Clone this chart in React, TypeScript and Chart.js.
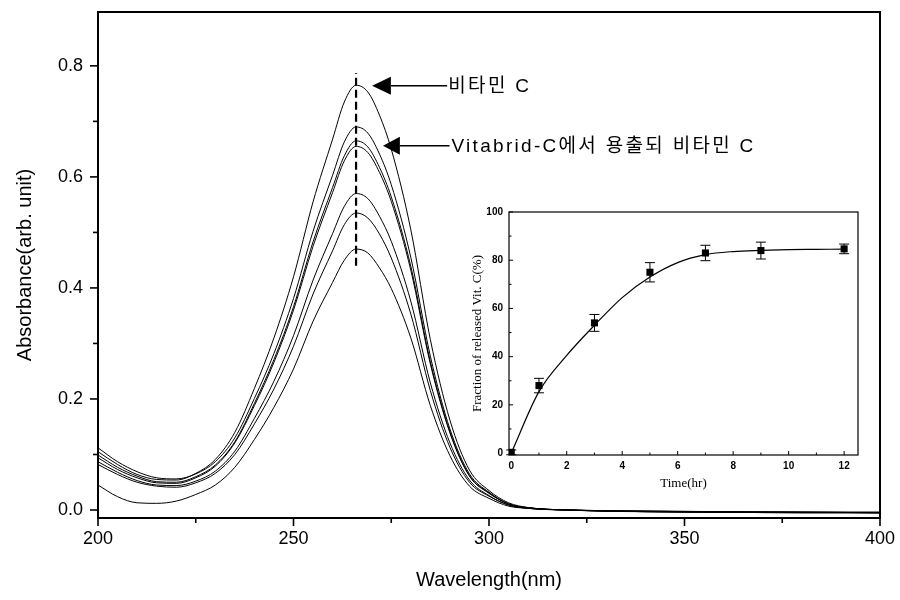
import React, { useEffect, useRef } from "react";
import { Chart, registerables } from "chart.js";
Chart.register(...registerables);

// ---------- main chart data ----------
const wavelengths = [200, 205, 210, 215, 220, 225, 230, 235, 240, 245, 250, 255, 260, 263, 266, 269, 272, 275, 280, 285, 290, 295, 300, 305, 310, 320, 340, 360, 380, 400];
const absVitC = [0.105, 0.082, 0.064, 0.055, 0.054, 0.066, 0.091, 0.140, 0.219, 0.310, 0.420, 0.555, 0.668, 0.735, 0.765, 0.753, 0.711, 0.650, 0.505, 0.307, 0.162, 0.072, 0.035, 0.013, 0.0045, 0.000, -0.003, -0.004, -0.005, -0.005];
const absRel1 = [0.112, 0.087, 0.069, 0.058, 0.056, 0.065, 0.087, 0.130, 0.201, 0.282, 0.381, 0.502, 0.603, 0.663, 0.690, 0.679, 0.641, 0.586, 0.455, 0.277, 0.146, 0.065, 0.032, 0.011, 0.004, 0.000, -0.003, -0.004, -0.004, -0.005];
const absRel2 = [0.099, 0.077, 0.061, 0.051, 0.050, 0.060, 0.081, 0.123, 0.192, 0.271, 0.366, 0.483, 0.581, 0.638, 0.665, 0.654, 0.617, 0.564, 0.439, 0.267, 0.141, 0.062, 0.031, 0.011, 0.004, 0.000, -0.002, -0.004, -0.005, -0.005];
const absRel3 = [0.094, 0.073, 0.058, 0.049, 0.048, 0.058, 0.079, 0.121, 0.188, 0.266, 0.360, 0.475, 0.572, 0.629, 0.655, 0.644, 0.608, 0.556, 0.432, 0.263, 0.139, 0.061, 0.030, 0.011, 0.004, 0.000, -0.003, -0.003, -0.004, -0.005];
const absRel4 = [0.087, 0.068, 0.053, 0.045, 0.044, 0.052, 0.070, 0.106, 0.165, 0.232, 0.314, 0.414, 0.498, 0.547, 0.570, 0.561, 0.529, 0.484, 0.376, 0.229, 0.121, 0.054, 0.026, 0.009, 0.003, 0.000, -0.002, -0.003, -0.004, -0.004];
const absRel5 = [0.082, 0.064, 0.050, 0.043, 0.041, 0.049, 0.066, 0.100, 0.155, 0.218, 0.295, 0.389, 0.467, 0.514, 0.535, 0.526, 0.497, 0.454, 0.353, 0.215, 0.113, 0.050, 0.025, 0.009, 0.003, 0.000, -0.003, -0.004, -0.004, -0.005];
const absRel6 = [0.045, 0.024, 0.013, 0.012, 0.016, 0.028, 0.045, 0.077, 0.127, 0.185, 0.254, 0.340, 0.410, 0.450, 0.470, 0.463, 0.436, 0.399, 0.310, 0.188, 0.098, 0.043, 0.021, 0.007, 0.003, 0.000, -0.002, -0.003, -0.004, -0.004];
const spectra = [absVitC, absRel1, absRel2, absRel3, absRel4, absRel5, absRel6];

const peakWavelength = 266;
const peakMarkerRange = [0.44, 0.787];

const xMajorTicks = [200, 250, 300, 350, 400];
const xMinorTicks = [225, 275, 325, 375];
const yMajorTicks = [0.0, 0.2, 0.4, 0.6, 0.8];
const yMinorTicks = [0.1, 0.3, 0.5, 0.7];

const labelVitC = "비타민 C";
const labelReleased = "Vitabrid-C에서 용출되 비타민 C";

// ---------- inset data ----------
const timeHours = [0, 1, 3, 5, 7, 9, 12];
const releasedPct = [0.3, 28, 54, 75, 83, 84, 84.7];
const releasedErr = [1, 3, 3.5, 4, 3.2, 3.5, 2];
const fitTime = [0, 1, 2, 3, 4, 5, 6, 7, 8, 9, 10, 11, 12];
const fitPct = [0, 25.5, 40.5, 53, 64.5, 73, 79, 82.3, 83.6, 84.1, 84.4, 84.5, 84.6];
const insetXMajor = [0, 2, 4, 6, 8, 10, 12];
const insetXMinor = [1, 3, 5, 7, 9, 11];
const insetYMajor = [0, 20, 40, 60, 80, 100];
const insetYMinor = [10, 30, 50, 70, 90];

const SANS = "'Liberation Sans', Arial, sans-serif";
const SERIF = "'Liberation Serif', 'Times New Roman', serif";
const KR = "'Liberation Sans', 'Noto Sans CJK KR', sans-serif";

function framePlugin(id: string, majorLen: number, minorLen: number, inward: boolean, lw: number, xMaj: number[], xMin: number[], yMaj: number[], yMin: number[]) {
  return {
    id,
    afterDraw(chart: any) {
      const { ctx, chartArea } = chart;
      const { left, right, top, bottom } = chartArea;
      const x = chart.scales.x;
      const y = chart.scales.y;
      ctx.save();
      ctx.strokeStyle = "#000";
      ctx.lineWidth = lw;
      ctx.strokeRect(left, top, right - left, bottom - top);
      ctx.lineWidth = Math.max(1, lw * 0.8);
      const dir = inward ? -1 : 1;
      const drawX = (v: number, len: number) => {
        const px = x.getPixelForValue(v);
        ctx.beginPath();
        ctx.moveTo(px, bottom);
        ctx.lineTo(px, bottom + dir * len);
        ctx.stroke();
      };
      const drawY = (v: number, len: number) => {
        const py = y.getPixelForValue(v);
        ctx.beginPath();
        ctx.moveTo(left, py);
        ctx.lineTo(left - dir * len, py);
        ctx.stroke();
      };
      xMaj.forEach((v) => drawX(v, majorLen));
      xMin.forEach((v) => drawX(v, minorLen));
      yMaj.forEach((v) => drawY(v, majorLen));
      yMin.forEach((v) => drawY(v, minorLen));
      ctx.restore();
    },
  };
}

const arrowPlugin = {
  id: "arrows",
  afterDatasetsDraw(chart: any) {
    const { ctx } = chart;
    const x = chart.scales.x;
    const y = chart.scales.y;
    const arrows = [
      { tip: 270.1, base: 274.9, end: 289.3, textAt: 289.6, yv: 0.764, text: labelVitC },
      { tip: 272.9, base: 277.2, end: 289.9, textAt: 290.4, yv: 0.656, text: labelReleased },
    ];
    ctx.save();
    ctx.fillStyle = "#000";
    ctx.strokeStyle = "#000";
    ctx.lineWidth = 1.5;
    ctx.font = `19px ${KR}`;
    (ctx as any).letterSpacing = "2.3px";
    ctx.textBaseline = "middle";
    ctx.textAlign = "left";
    arrows.forEach((a) => {
      const py = y.getPixelForValue(a.yv);
      const tx = x.getPixelForValue(a.tip);
      const bx = x.getPixelForValue(a.base);
      const ex = x.getPixelForValue(a.end);
      ctx.beginPath();
      ctx.moveTo(tx, py);
      ctx.lineTo(bx, py - 9);
      ctx.lineTo(bx, py + 9);
      ctx.closePath();
      ctx.fill();
      ctx.beginPath();
      ctx.moveTo(bx, py);
      ctx.lineTo(ex, py);
      ctx.stroke();
      ctx.fillText(a.text, x.getPixelForValue(a.textAt), py + 1);
    });
    ctx.restore();
  },
};

const errorBarPlugin = {
  id: "errbars",
  afterDatasetsDraw(chart: any) {
    const { ctx } = chart;
    const x = chart.scales.x;
    const y = chart.scales.y;
    ctx.save();
    ctx.strokeStyle = "#000";
    ctx.lineWidth = 1;
    timeHours.forEach((t, i) => {
      const px = x.getPixelForValue(t);
      const hi = y.getPixelForValue(releasedPct[i] + releasedErr[i]);
      const lo = y.getPixelForValue(releasedPct[i] - releasedErr[i]);
      ctx.beginPath();
      ctx.moveTo(px, hi);
      ctx.lineTo(px, lo);
      ctx.moveTo(px - 5, hi);
      ctx.lineTo(px + 5, hi);
      ctx.moveTo(px - 5, lo);
      ctx.lineTo(px + 5, lo);
      ctx.stroke();
    });
    ctx.restore();
  },
};

export default function App() {
  const mainRef = useRef<HTMLCanvasElement>(null);
  const insetRef = useRef<HTMLCanvasElement>(null);

  useEffect(() => {
    document.body.style.margin = "0";
    const mainDatasets: any[] = spectra.map((s) => ({
      data: wavelengths.map((w, i) => ({ x: w, y: s[i] })),
      borderColor: "#000",
      borderWidth: 1,
      pointRadius: 0,
      cubicInterpolationMode: "monotone",
      fill: false,
    }));
    mainDatasets.push({
      data: [
        { x: peakWavelength, y: peakMarkerRange[0] },
        { x: peakWavelength, y: peakMarkerRange[1] },
      ],
      borderColor: "#000",
      borderWidth: 2.2,
      borderDash: [8, 4],
      pointRadius: 0,
      fill: false,
    });

    const main = new Chart(mainRef.current!, {
      type: "line",
      data: { datasets: mainDatasets },
      options: {
        animation: false,
        responsive: false,
        layout: { padding: { top: 12, right: 20, left: 0, bottom: 0 } },
        plugins: { legend: { display: false }, tooltip: { enabled: false } },
        scales: {
          x: {
            type: "linear",
            min: 200,
            max: 400,
            grid: { display: false, drawTicks: false },
            border: { display: false },
            afterBuildTicks: (s: any) => {
              s.ticks = xMajorTicks.map((v) => ({ value: v }));
            },
            afterFit: (s: any) => {
              s.height = 82;
              s.paddingLeft = 0;
              s.paddingRight = 0;
            },
            ticks: { padding: 10, color: "#000", font: { family: SANS, size: 18 }, maxRotation: 0, callback: (v: any) => String(v) },
            title: { display: true, text: "Wavelength(nm)", color: "#000", font: { family: SANS, size: 20 }, padding: { top: 0, bottom: 8 } },
          },
          y: {
            type: "linear",
            min: -0.0144,
            max: 0.897,
            grid: { display: false, drawTicks: false },
            border: { display: false },
            afterBuildTicks: (s: any) => {
              s.ticks = yMajorTicks.map((v) => ({ value: v }));
            },
            afterFit: (s: any) => {
              s.width = 98;
              s.paddingTop = 0;
              s.paddingBottom = 0;
            },
            ticks: { padding: 15, color: "#000", font: { family: SANS, size: 18 }, callback: (v: any) => Number(v).toFixed(1) },
            title: { display: true, text: "Absorbance(arb. unit)", color: "#000", font: { family: SANS, size: 20 }, padding: { top: 13, bottom: 0 } },
          },
        },
      } as any,
      plugins: [framePlugin("mainFrame", 8, 5, false, 2, xMajorTicks, xMinorTicks, yMajorTicks, yMinorTicks), arrowPlugin],
    });

    const inset = new Chart(insetRef.current!, {
      type: "line",
      data: {
        datasets: [
          {
            data: fitTime.map((t, i) => ({ x: t, y: fitPct[i] })),
            borderColor: "#000",
            borderWidth: 1.2,
            pointRadius: 0,
            cubicInterpolationMode: "monotone",
            fill: false,
          },
          {
            data: timeHours.map((t, i) => ({ x: t, y: releasedPct[i] })),
            showLine: false,
            pointRadius: 5,
            pointStyle: "rect",
            backgroundColor: "#000",
            borderColor: "#000",
            borderWidth: 0,
          },
        ] as any,
      },
      options: {
        animation: false,
        responsive: false,
        layout: { padding: { top: 12, right: 12, left: 0, bottom: 0 } },
        plugins: { legend: { display: false }, tooltip: { enabled: false } },
        scales: {
          x: {
            type: "linear",
            min: -0.08,
            max: 12.5,
            grid: { display: false, drawTicks: false },
            border: { display: false },
            afterBuildTicks: (s: any) => {
              s.ticks = insetXMajor.map((v) => ({ value: v }));
            },
            afterFit: (s: any) => {
              s.height = 45;
              s.paddingLeft = 0;
              s.paddingRight = 0;
            },
            ticks: { padding: 5, color: "#000", font: { family: SANS, size: 10, weight: "bold" }, maxRotation: 0 },
            title: { display: true, text: "Time(hr)", color: "#000", font: { family: SERIF, size: 13 }, padding: { top: 0, bottom: 9 } },
          },
          y: {
            type: "linear",
            min: -0.8,
            max: 100,
            grid: { display: false, drawTicks: false },
            border: { display: false },
            afterBuildTicks: (s: any) => {
              s.ticks = insetYMajor.map((v) => ({ value: v }));
            },
            afterFit: (s: any) => {
              s.width = 39;
              s.paddingTop = 0;
              s.paddingBottom = 0;
            },
            ticks: { padding: 6, color: "#000", font: { family: SANS, size: 10, weight: "bold" } },
            title: { display: true, text: "Fraction of released Vit. C(%)", color: "#000", font: { family: SERIF, size: 13 }, padding: { top: 0, bottom: 0 } },
          },
        },
      } as any,
      plugins: [framePlugin("insetFrame", 4, 2.5, true, 1.2, insetXMajor, insetXMinor, insetYMajor, insetYMinor), errorBarPlugin],
    });

    return () => {
      main.destroy();
      inset.destroy();
    };
  }, []);

  return (
    <div style={{ position: "relative", width: 900, height: 600, background: "#fff" }}>
      <canvas ref={mainRef} width={900} height={600} style={{ position: "absolute", left: 0, top: 0 }} />
      <canvas ref={insetRef} width={400} height={300} style={{ position: "absolute", left: 470, top: 200 }} />
    </div>
  );
}
